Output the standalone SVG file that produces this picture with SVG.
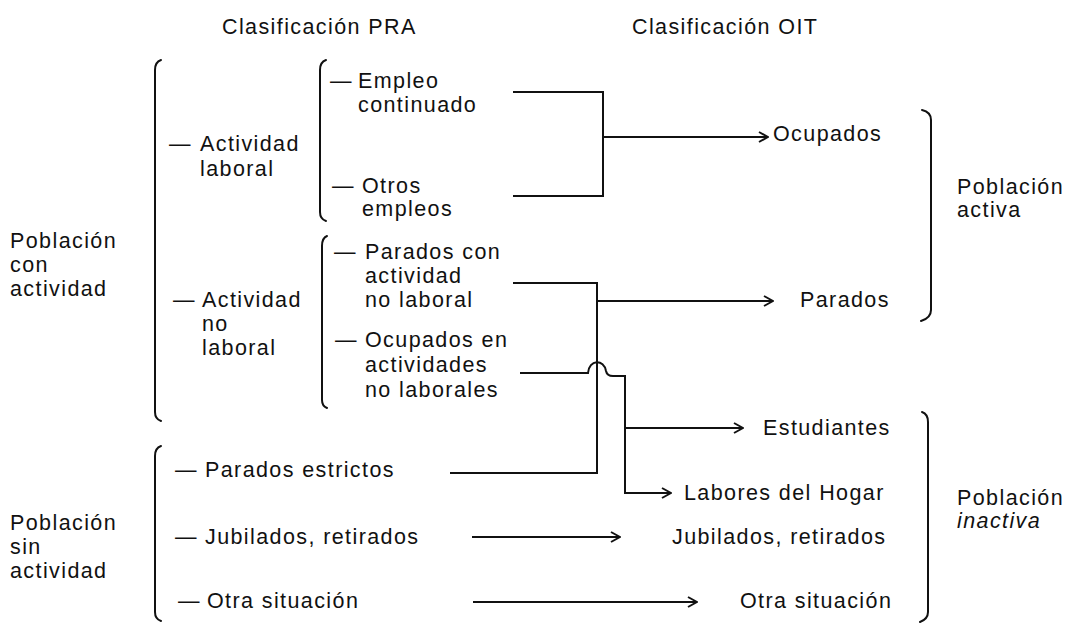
<svg xmlns="http://www.w3.org/2000/svg" width="1068" height="623" viewBox="0 0 1068 623">
<defs>
<style>
text{font-family:"Liberation Sans",Arial,Helvetica,sans-serif;font-size:21.5px;fill:#111;letter-spacing:1.4px}
.ln{fill:none;stroke:#111;stroke-width:2;stroke-linejoin:miter}
.br{fill:none;stroke:#111;stroke-width:2;stroke-linecap:round}
.it{font-style:italic}
</style>
<marker id="arr" viewBox="0 0 12 12" refX="11" refY="6" markerWidth="12" markerHeight="12" markerUnits="userSpaceOnUse" orient="auto">
<path d="M2,1 L11,6 L2,11" fill="none" stroke="#111" stroke-width="2"/>
</marker>
</defs>
<rect width="1068" height="623" fill="#fff"/>

<g id="titles">
<text x="222" y="34">Clasificación PRA</text>
<text x="632" y="34">Clasificación OIT</text>
</g>

<g id="braces">
<path class="br" d="M161,60 Q155,62 155,70 V412 Q155,419 161,421"/>
<path class="br" d="M161,446 Q155,448 155,456 V612 Q155,619 161,621"/>
<path class="br" d="M326,60 Q320,62 320,70 V212 Q320,219 326,221"/>
<path class="br" d="M327,236 Q322,238 322,246 V400 Q322,406 327,408"/>
<path class="br" d="M922,110 Q931,112 931,120 V310 Q931,318 921,321"/>
<path class="br" d="M922,412 Q928,414 928,422 V612 Q928,619 920,622"/>
</g>

<g id="pob-con">
<text x="10" y="248">Población</text>
<text x="10" y="272">con</text>
<text x="10" y="296">actividad</text>
</g>
<g id="pob-sin">
<text x="10" y="530">Población</text>
<text x="10" y="554">sin</text>
<text x="10" y="578">actividad</text>
</g>

<g id="act-laboral">
<text y="151"><tspan x="169">—</tspan><tspan x="200">Actividad</tspan></text>
<text x="200" y="176">laboral</text>
</g>
<g id="act-no-laboral">
<text y="307"><tspan x="173">—</tspan><tspan x="202">Actividad</tspan></text>
<text x="202" y="331">no</text>
<text x="202" y="355">laboral</text>
</g>
<g id="empleo-continuado">
<text y="88"><tspan x="330">—</tspan><tspan x="358">Empleo</tspan></text>
<text x="358" y="112">continuado</text>
</g>
<g id="otros-empleos">
<text y="193"><tspan x="332">—</tspan><tspan x="362">Otros</tspan></text>
<text x="362" y="216">empleos</text>
</g>
<g id="parados-con">
<text y="259"><tspan x="334">—</tspan><tspan x="365">Parados con</tspan></text>
<text x="365" y="283">actividad</text>
<text x="365" y="307">no laboral</text>
</g>
<g id="ocupados-en">
<text y="347"><tspan x="335">—</tspan><tspan x="365">Ocupados en</tspan></text>
<text x="365" y="372">actividades</text>
<text x="365" y="397">no laborales</text>
</g>
<g id="parados-estrictos">
<text y="477"><tspan x="175">—</tspan><tspan x="205">Parados estrictos</tspan></text>
</g>
<g id="jubilados-pra">
<text y="544"><tspan x="175">—</tspan><tspan x="205">Jubilados, retirados</tspan></text>
</g>
<g id="otra-pra">
<text y="608"><tspan x="178">—</tspan><tspan x="207">Otra situación</tspan></text>
</g>

<g id="ocupados"><text x="773" y="141">Ocupados</text></g>
<g id="parados"><text x="800" y="307">Parados</text></g>
<g id="estudiantes"><text x="763" y="435">Estudiantes</text></g>
<g id="labores"><text x="684" y="500">Labores del Hogar</text></g>
<g id="jubilados-oit"><text x="672" y="544">Jubilados, retirados</text></g>
<g id="otra-oit"><text x="740" y="608">Otra situación</text></g>

<g id="pob-activa">
<text x="957" y="194">Población</text>
<text x="957" y="217">activa</text>
</g>
<g id="pob-inactiva">
<text x="957" y="505">Población</text>
<text x="957" y="528" class="it">inactiva</text>
</g>

<g id="connectors">
<path class="ln" d="M513,92 H603 V196 H513"/>
<path class="ln" d="M603,137 H768" marker-end="url(#arr)"/>
<path class="ln" d="M513,283 H597 V473 H450"/>
<path class="ln" d="M597,301 H773" marker-end="url(#arr)"/>
<path class="ln" d="M520,373 H588 C589,359 604,359 606,371 Q607,376 613,376 H625 V493 H671" marker-end="url(#arr)"/>
<path class="ln" d="M625,428 H743" marker-end="url(#arr)"/>
<path class="ln" d="M472,537 H620" marker-end="url(#arr)"/>
<path class="ln" d="M473,602 H697" marker-end="url(#arr)"/>
</g>
</svg>
